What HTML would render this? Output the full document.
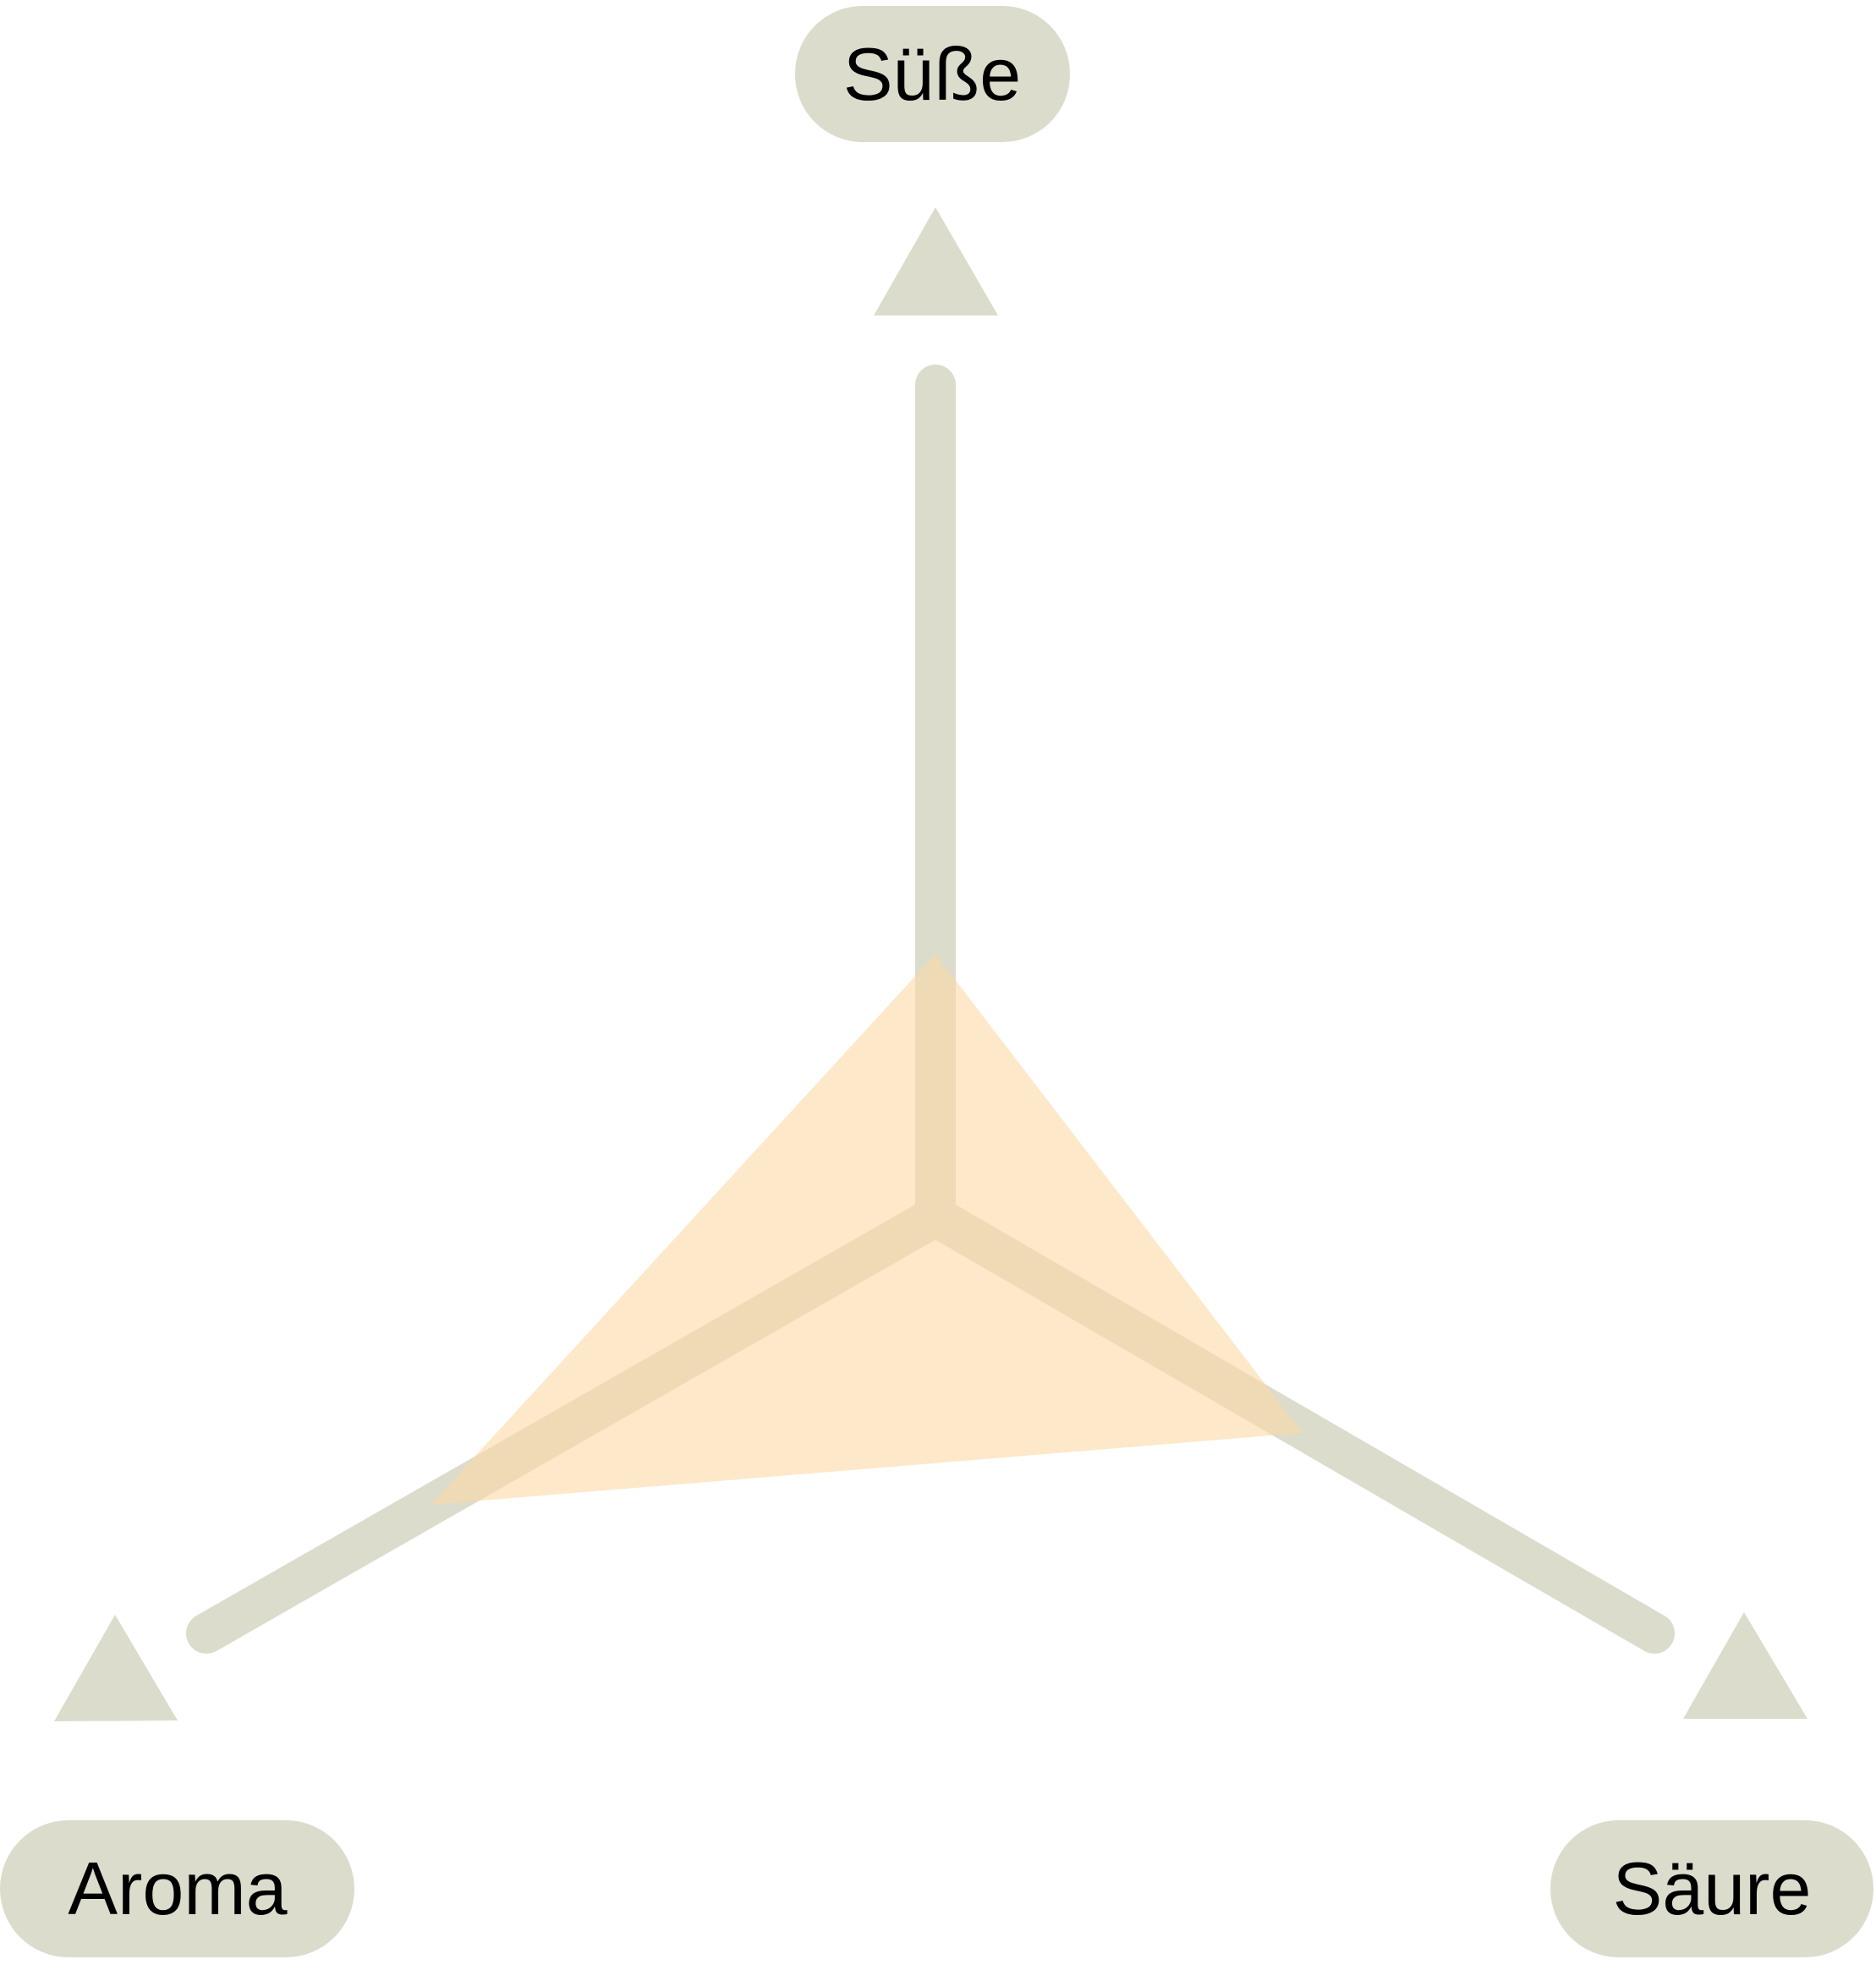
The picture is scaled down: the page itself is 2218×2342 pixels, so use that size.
<!DOCTYPE html>
<html><head><meta charset="utf-8"><style>
html,body{margin:0;padding:0;background:#fff;}
svg{display:block;}
text{font-family:"Liberation Sans",sans-serif;font-size:88px;fill:#000;}
</style></head><body>
<svg width="2218" height="2342" viewBox="0 0 2218 2342" xmlns="http://www.w3.org/2000/svg">
<rect x="940" y="7" width="325" height="161" rx="80" fill="#dbdccc"/>
<text x="1102" y="118" text-anchor="middle">Süße</text>
<rect x="0" y="2152" width="419" height="162" rx="81" fill="#dbdccc"/>
<text x="210" y="2263" text-anchor="middle">Aroma</text>
<rect x="1833" y="2152" width="382" height="162" rx="81" fill="#dbdccc"/>
<text x="2024" y="2263" text-anchor="middle">Säure</text>
<polygon points="1106,245 1033,373 1180,373" fill="#dbdccc"/>
<polygon points="136,1909 64,2035 210,2034" fill="#dbdccc"/>
<polygon points="2062,1906 1990,2032 2137,2032" fill="#dbdccc"/>
<g stroke="#dbdccc" stroke-width="48" fill="none">
<line x1="1106" y1="455" x2="1106" y2="1436" stroke-linecap="round"/>
<polyline points="244,1931 1106,1438 1956,1931" stroke-linecap="round" stroke-linejoin="miter"/>
</g>
<polygon points="1106,1128 1540,1694 509,1779" fill="#fbd9a6" opacity="0.6"/>
</svg>
</body></html>
